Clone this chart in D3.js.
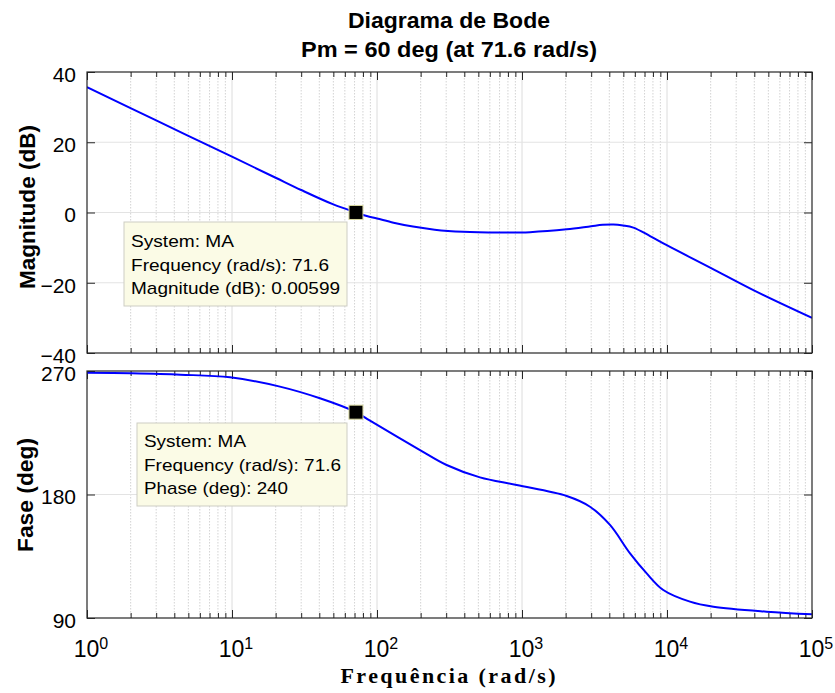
<!DOCTYPE html>
<html>
<head>
<meta charset="utf-8">
<script src="https://cdn.jsdelivr.net/npm/d3@7"></script>
<style>
  body { margin: 0; background: #fff; }
  text { font-family: "Liberation Sans", Arial, sans-serif; fill: #000; }
</style>
</head>
<body>
<div id="chart"></div>
<script>
// ---- data ----
const magFreq = [1, 3, 10, 20, 30, 50, 71.6, 85, 100, 130, 177, 250, 392, 700, 1135, 2033, 3000, 3600, 4266, 4977, 5861, 7638, 9960, 20300, 39400, 100000];
const magDb   = [35.7, 26.2, 15.9, 9.9, 6.4, 2.3, 0.006, -1.0, -1.7, -2.9, -4.0, -4.9, -5.5, -5.7, -5.6, -4.8, -3.9, -3.5, -3.4, -3.7, -4.3, -6.7, -9.3, -15.9, -22.1, -30.0];

const phaseFreq = [1, 2, 4.4, 9.7, 21.4, 40.4, 71.6, 89.5, 198, 302, 513, 919, 2033, 2944, 4044, 5560, 7244, 9427, 14400, 20900, 48600, 100000];
const phaseDeg  = [268.8, 268.3, 267.3, 265.4, 258.6, 250.1, 240, 233.8, 212.4, 201.5, 192.5, 186.9, 178.9, 171.1, 157.8, 137.1, 122.5, 110.4, 101.9, 98.2, 94.6, 92.7];

const magTicks = [-40, -20, 0, 20, 40];
const phaseTicks = [90, 180, 270];
const decades = [1, 10, 100, 1000, 10000, 100000];

const pmFreq = 71.6;
const pmMag = 0.00599;
const pmPhase = 240;

const magTip = ["System: MA", "Frequency (rad/s): 71.6", "Magnitude (dB): 0.00599"];
const phaseTip = ["System: MA", "Frequency (rad/s): 71.6", "Phase (deg): 240"];

// minor positions 2..9 for each decade
const minors = [];
decades.slice(0, -1).forEach(d => { for (let k = 2; k <= 9; k++) minors.push(d * k); });

const W = 835, H = 693;
const svg = d3.select("#chart").append("svg").attr("width", W).attr("height", H);

const x = d3.scaleLog().domain([1, 1e5]).range([87, 812]);
const yMag = d3.scaleLinear().domain([-40, 40]).range([353, 72]);
const yPh = d3.scaleLinear().domain([90, 270]).range([618, 371]);

function panel(y, ticks, id) {
  const [y0, y1] = [y.range()[1], y.range()[0]];
  const g = svg.append("g");

  svg.append("clipPath").attr("id", id)
    .append("rect").attr("x", x(1)).attr("y", y0).attr("width", x(1e5) - x(1)).attr("height", y1 - y0);

  g.append("rect").attr("x", x(1)).attr("y", y0).attr("width", x(1e5) - x(1)).attr("height", y1 - y0).attr("fill", "#fff");

  // grid
  g.selectAll(".minor").data(minors).join("line")
    .attr("x1", d => x(d)).attr("x2", d => x(d)).attr("y1", y0).attr("y2", y1)
    .attr("stroke", "#c8c8c8").attr("stroke-width", 0.8).attr("stroke-dasharray", "1.5,1.5");
  g.selectAll(".major").data(decades.slice(1, -1)).join("line")
    .attr("x1", d => x(d)).attr("x2", d => x(d)).attr("y1", y0).attr("y2", y1)
    .attr("stroke", "#dcdcdc").attr("stroke-width", 1);
  g.selectAll(".hgrid").data(ticks.slice(1, -1)).join("line")
    .attr("x1", x(1)).attr("x2", x(1e5)).attr("y1", d => y(d)).attr("y2", d => y(d))
    .attr("stroke", "#e3e3e3").attr("stroke-width", 1);

  // ticks on all sides
  const tickAxis = (gen, tr) => g.append("g").attr("transform", tr).call(gen)
    .call(a => a.select(".domain").remove())
    .call(a => a.selectAll("line").attr("stroke", "#262626"));

  tickAxis(d3.axisTop(x).tickValues(decades).tickFormat("").tickSize(-8), `translate(0,${y0})`);
  tickAxis(d3.axisTop(x).tickValues(minors).tickFormat("").tickSize(-5), `translate(0,${y0})`);
  tickAxis(d3.axisBottom(x).tickValues(decades).tickFormat("").tickSize(-8), `translate(0,${y1})`);
  tickAxis(d3.axisBottom(x).tickValues(minors).tickFormat("").tickSize(-5), `translate(0,${y1})`);
  tickAxis(d3.axisRight(y).tickValues(ticks).tickFormat("").tickSize(-8), `translate(${x(1e5)},0)`);

  const left = g.append("g").attr("transform", `translate(${x(1)},0)`)
    .call(d3.axisLeft(y).tickValues(ticks).tickSize(-8).tickPadding(11));
  left.select(".domain").remove();
  left.selectAll("line").attr("stroke", "#262626");
  left.selectAll("text").attr("font-size", "21px").attr("dy", "0.45em")
    .attr("font-family", "Liberation Sans, Arial, sans-serif").attr("fill", "#000");

  return g;
}

function box(y) {
  const [y0, y1] = [y.range()[1], y.range()[0]];
  svg.append("rect").attr("x", x(1)).attr("y", y0).attr("width", x(1e5) - x(1)).attr("height", y1 - y0)
    .attr("fill", "none").attr("stroke", "#262626").attr("stroke-width", 1.2);
}

// ---- magnitude panel ----
panel(yMag, magTicks, "clipMag");
const magLine = d3.line().x((d, i) => x(magFreq[i])).y(d => yMag(d)).curve(d3.curveCatmullRom.alpha(0.5));
svg.append("path").datum(magDb).attr("d", magLine).attr("clip-path", "url(#clipMag)")
  .attr("fill", "none").attr("stroke", "#0000ff").attr("stroke-width", 2);
box(yMag);

// ---- phase panel ----
panel(yPh, phaseTicks, "clipPh");
const phLine = d3.line().x((d, i) => x(phaseFreq[i])).y(d => yPh(d)).curve(d3.curveCatmullRom.alpha(0.5));
svg.append("path").datum(phaseDeg).attr("d", phLine).attr("clip-path", "url(#clipPh)")
  .attr("fill", "none").attr("stroke", "#0000ff").attr("stroke-width", 2);
box(yPh);

// ---- x tick labels 10^n ----
const xl = svg.append("g").attr("transform", `translate(0,${yPh.range()[0]})`)
  .call(d3.axisBottom(x).tickValues(decades).tickSize(0).tickPadding(23).tickFormat(""));
xl.select(".domain").remove();
xl.selectAll("text").attr("font-size", "23px").attr("font-family", "Liberation Sans, Arial, sans-serif").attr("fill", "#000")
  .attr("dx", "0.15em")
  .each(function (d) {
    const t = d3.select(this);
    t.append("tspan").text("10");
    t.append("tspan").attr("dy", "-0.5em").attr("font-size", "16px").text(Math.round(Math.log10(d)));
  });

// ---- data tips ----
function tip(px, py, bx, by, bw, bh, lines, widths, ty) {
  svg.append("rect").attr("x", bx).attr("y", by).attr("width", bw).attr("height", bh)
    .attr("fill", "#fbfbe6").attr("stroke", "#cdcdc4").attr("stroke-width", 1);
  lines.forEach((s, i) => {
    svg.append("text").attr("x", bx + 7).attr("y", ty + i * 23.5)
      .attr("font-size", "17px").attr("textLength", widths[i]).attr("lengthAdjust", "spacingAndGlyphs")
      .text(s);
  });
  svg.append("rect").attr("x", px - 7).attr("y", py - 7).attr("width", 14).attr("height", 14)
    .attr("fill", "#000").attr("stroke", "#d8d8a0").attr("stroke-width", 1);
}

tip(x(pmFreq), yMag(pmMag), 124, 222, 223, 84, magTip, [103, 198, 209], 247);
tip(x(pmFreq), yPh(pmPhase), 137, 423, 210, 83, phaseTip, [102, 197, 144], 447);

// ---- titles and labels ----
svg.append("text").attr("x", 449).attr("y", 28).attr("text-anchor", "middle")
  .attr("font-size", "22px").attr("font-weight", "bold")
  .attr("textLength", 202).attr("lengthAdjust", "spacingAndGlyphs").text("Diagrama de Bode");
svg.append("text").attr("x", 449).attr("y", 57).attr("text-anchor", "middle")
  .attr("font-size", "22px").attr("font-weight", "bold")
  .attr("textLength", 296).attr("lengthAdjust", "spacingAndGlyphs").text("Pm = 60 deg (at 71.6 rad/s)");

svg.append("text").attr("transform", "translate(35,207) rotate(-90)").attr("text-anchor", "middle")
  .attr("font-size", "22px").attr("font-weight", "bold")
  .attr("textLength", 164).attr("lengthAdjust", "spacingAndGlyphs").text("Magnitude (dB)");
svg.append("text").attr("transform", "translate(33,495) rotate(-90)").attr("text-anchor", "middle")
  .attr("font-size", "22px").attr("font-weight", "bold")
  .attr("textLength", 114).attr("lengthAdjust", "spacingAndGlyphs").text("Fase (deg)");

svg.append("text").attr("x", 448).attr("y", 683).attr("text-anchor", "middle")
  .style("font-family", "Liberation Serif, serif").attr("font-size", "22px").attr("font-weight", "bold")
  .attr("textLength", 215).attr("lengthAdjust", "spacing").text("Frequência  (rad/s)");
</script>
</body>
</html>
